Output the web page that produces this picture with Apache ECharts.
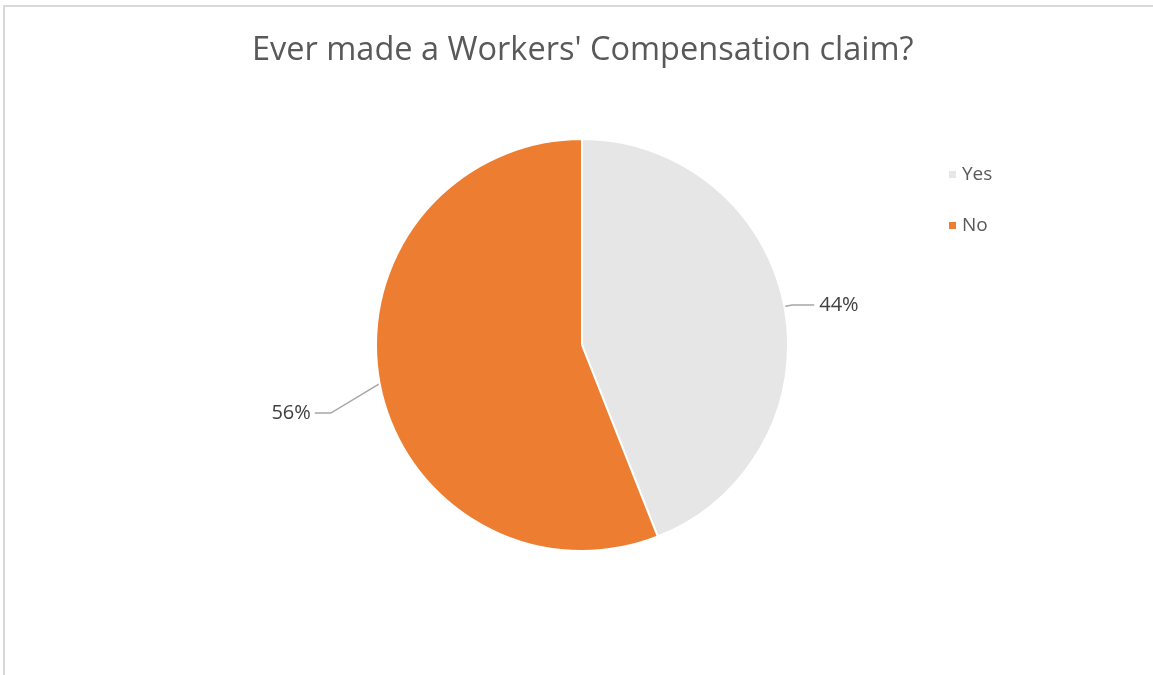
<!DOCTYPE html>
<html>
<head>
<meta charset="utf-8">
<script src="https://cdn.jsdelivr.net/npm/echarts@6/dist/echarts.min.js"></script>
<style>
  html, body { margin: 0; padding: 0; background: #fff; }
  #frame { position: absolute; left: 3px; top: 5px; width: 1200px; height: 700px;
           border-left: 2px solid #d9d9d9; border-top: 2px solid #d9d9d9; }
  #chart { position: absolute; left: 0; top: 0; width: 1153px; height: 675px; }
</style>
</head>
<body>
<div id="frame"></div>
<div id="chart"></div>
<script>
// data
const categories = ['Yes', 'No']
const shares = [44, 56]
const colors = ['#E7E6E6', '#ED7D31']

const chart = echarts.init(document.getElementById('chart'))

const option = {
  title: {
    text: "Ever made a Workers' Compensation claim?",
    left: 247,
    top: 29,
    textStyle: {
      fontFamily: 'Open Sans',
      fontSize: 32.5,
      fontWeight: 'normal',
      color: '#595959'
    }
  },
  legend: {
    orient: 'vertical',
    left: 942,
    top: 160,
    itemWidth: 9,
    itemHeight: 9,
    itemGap: 32,
    icon: 'rect',
    data: categories,
    textStyle: {
      fontFamily: 'Open Sans',
      fontSize: 19,
      color: '#595959'
    }
  },
  series: [{
    type: 'pie',
    center: [582, 345],
    radius: 206,
    startAngle: 90,
    clockwise: true,
    animation: false,
    itemStyle: {
      borderColor: '#fff',
      borderWidth: 2
    },
    label: {
      show: true,
      formatter: '{d}%',
      fontFamily: 'Open Sans',
      fontSize: 20,
      color: '#404040'
    },
    labelLine: {
      show: true,
      length: 8,
      length2: 22,
      lineStyle: { color: '#A6A6A6', width: 1.5 }
    },
    // the "No" label sits lower-left in the original, with a slanted leader
    labelLayout: function (params) {
      if (params.dataIndex !== 1) return {}
      const dx = -34, dy = 28
      const r = params.labelRect
      const start = params.labelLinePoints[0]
      const midY = r.y + dy + r.height / 2
      const right = r.x + dx + r.width
      return {
        dx: dx,
        dy: dy,
        labelLinePoints: [start, [right + 20, midY], [right + 4, midY]]
      }
    },
    data: categories.map((name, i) => ({
      name: name,
      value: shares[i],
      itemStyle: { color: colors[i] }
    }))
  }]
}

chart.setOption(option)
</script>
</body>
</html>
